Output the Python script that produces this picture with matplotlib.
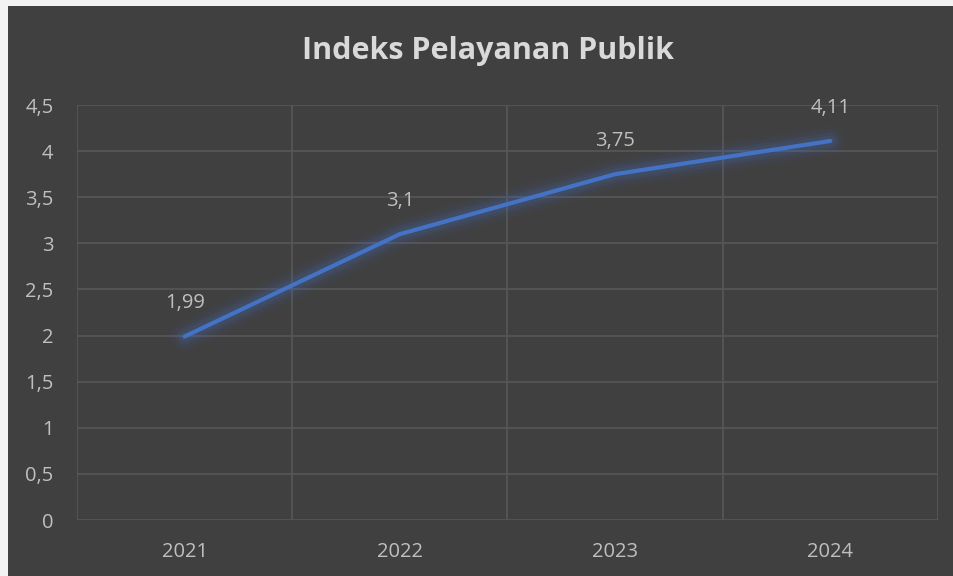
import numpy as np
import matplotlib
matplotlib.use('Agg')
import matplotlib.pyplot as plt
from matplotlib.patches import Rectangle

# data
years = ['2021', '2022', '2023', '2024']
values = [1.99, 3.1, 3.75, 4.11]
value_labels = ['1,99', '3,1', '3,75', '4,11']
y_ticks = [0, 0.5, 1, 1.5, 2, 2.5, 3, 3.5, 4, 4.5]
y_tick_labels = ['0', '0,5', '1', '1,5', '2', '2,5', '3', '3,5', '4', '4,5']

W, H = 954, 576
bg = '#404040'
grid_col = '#575757'
line_col = '#4472C4'
txt_col = '#bfbfbf'

plt.rcParams['font.family'] = ['Open Sans', 'DejaVu Sans']

fig = plt.figure(figsize=(W / 100, H / 100), dpi=100, facecolor=bg)
# light strips on top and left like the screenshot
fig.patches.append(Rectangle((0, (H - 6) / H), 1, 6 / H, transform=fig.transFigure,
                             facecolor='#f2f2f2', edgecolor='none'))
fig.patches.append(Rectangle((0, 0), 8 / W, 1, transform=fig.transFigure,
                             facecolor='#f2f2f2', edgecolor='none'))

ax = fig.add_axes([77 / W, (H - 520) / H, (938 - 77) / W, (520 - 105) / H])
ax.set_zorder(2)
ax.set_facecolor(bg)
x = np.arange(len(years))

# glow
for lw, a in [(22, 0.04), (17, 0.06), (12, 0.09), (8, 0.13)]:
    ax.plot(x, values, color=line_col, lw=lw, alpha=a, solid_capstyle='round',
            solid_joinstyle='round', zorder=2)
ax.plot(x, values, color=line_col, lw=3, solid_capstyle='round', zorder=3)

for xi, v, lab in zip(x, values, value_labels):
    ax.annotate(lab, (xi, v), xytext=(0, 24), textcoords='offset points',
                ha='center', va='center', fontsize=14.5, color=txt_col)

ax.set_xlim(-0.5, len(years) - 0.5)
ax.set_ylim(0, 4.5)
ax.set_yticks(y_ticks)
ax.set_yticklabels(y_tick_labels)
ax.set_xticks(x)
ax.set_xticklabels(years)
ax.set_xticks(np.arange(-0.5, len(years)), minor=True)
ax.grid(True, which='major', axis='y', color=grid_col, lw=1.2)
ax.grid(True, which='minor', axis='x', color=grid_col, lw=1.2)
ax.tick_params(which='both', length=0, colors=txt_col, labelsize=14.5)
ax.tick_params(axis='y', pad=17)
ax.tick_params(axis='x', pad=16)
for s in ax.spines.values():
    s.set_visible(False)
ax.set_axisbelow(True)

fig.text(488 / W, 1 - 51 / H, 'Indeks Pelayanan Publik', ha='center', va='center',
         fontsize=22, fontweight='bold', color='#d9d9d9')

fig.savefig('out.png', dpi=100, facecolor=fig.get_facecolor())
